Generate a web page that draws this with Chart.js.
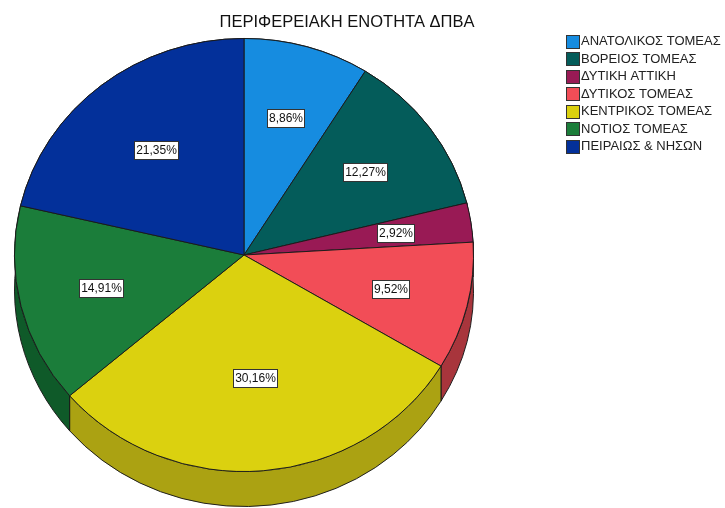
<!DOCTYPE html>
<html><head><meta charset="utf-8">
<script src="https://cdn.jsdelivr.net/npm/chart.js@4"></script>
<style>html,body{margin:0;padding:0;background:#fff}canvas{display:block}</style>
</head><body>
<canvas id="c" width="725" height="508"></canvas>
<script>
const chartTitle = 'ΠΕΡΙΦΕΡΕΙΑΚΗ ΕΝΟΤΗΤΑ ΔΠΒΑ';
const categories = ['ΑΝΑΤΟΛΙΚΟΣ ΤΟΜΕΑΣ','ΒΟΡΕΙΟΣ ΤΟΜΕΑΣ','ΔΥΤΙΚΗ ΑΤΤΙΚΗ','ΔΥΤΙΚΟΣ ΤΟΜΕΑΣ','ΚΕΝΤΡΙΚΟΣ ΤΟΜΕΑΣ','ΝΟΤΙΟΣ ΤΟΜΕΑΣ','ΠΕΙΡΑΙΩΣ & ΝΗΣΩΝ'];
const values = [8.86, 12.27, 2.92, 9.52, 30.16, 14.91, 21.35];
const valueLabels = ['8,86%','12,27%','2,92%','9,52%','30,16%','14,91%','21,35%'];
const topColors = ['#168ce0','#045c5a','#991a55','#f24d57','#dbd10f','#1b7d3a','#03309a'];
const sideColors = ['#0f63a0','#033f3e','#6b123b','#a8353c','#aba212','#0f5a29','#02226c'];

const SQUASH = 217/230;
const DEPTH = 35;
const FONT = '"Liberation Sans", Arial, sans-serif';

const pie3d = {
  id: 'pie3d',
  beforeDatasetsDraw(chart) {
    const ctx = chart.ctx;
    const arcs = chart.getDatasetMeta(0).data;
    const cy = arcs[0].y;
    ctx.save();
    ctx.translate(0, cy); ctx.scale(1, SQUASH); ctx.translate(0, -cy);
    const D = DEPTH / SQUASH;
    arcs.forEach((a, i) => {
      const p = a.getProps(['x','y','startAngle','endAngle','outerRadius'], true);
      const r = p.outerRadius;
      ctx.beginPath();
      ctx.arc(p.x, p.y, r, p.startAngle, p.endAngle);
      ctx.lineTo(p.x + r*Math.cos(p.endAngle), p.y + D + r*Math.sin(p.endAngle));
      ctx.arc(p.x, p.y + D, r, p.endAngle, p.startAngle, true);
      ctx.closePath();
      ctx.fillStyle = sideColors[i];
      ctx.fill();
      ctx.lineWidth = 1;
      ctx.strokeStyle = '#1a1a1a';
      ctx.stroke();
    });
  },
  afterDatasetsDraw(chart) {
    const ctx = chart.ctx;
    ctx.restore();
    const arcs = chart.getDatasetMeta(0).data;
    ctx.save();
    ctx.font = '12px ' + FONT;
    ctx.textAlign = 'center';
    ctx.textBaseline = 'middle';
    arcs.forEach((a, i) => {
      const p = a.getProps(['x','y','startAngle','endAngle','outerRadius'], true);
      const alpha = p.endAngle - p.startAngle;
      const mid = (p.startAngle + p.endAngle) / 2;
      const k = 4 * Math.sin(alpha/2) / (3 * alpha);
      const lx = p.x + k * p.outerRadius * Math.cos(mid);
      const ly = p.y + SQUASH * k * p.outerRadius * Math.sin(mid);
      const t = valueLabels[i];
      const w = Math.round(ctx.measureText(t).width + 3);
      const h = 18;
      const bx = Math.round(lx - w/2) + 0.5, by = Math.round(ly - h/2) + 0.5;
      ctx.fillStyle = '#fff';
      ctx.fillRect(bx, by, w, h);
      ctx.strokeStyle = '#333';
      ctx.lineWidth = 1;
      ctx.strokeRect(bx, by, w, h);
      ctx.fillStyle = '#111';
      ctx.fillText(t, bx + w/2, by + h/2 + 0.5);
    });
    ctx.restore();
  },
  afterDraw(chart) {
    const ctx = chart.ctx;
    ctx.save();
    ctx.fillStyle = '#111';
    ctx.font = '16.5px ' + FONT;
    ctx.textAlign = 'center';
    ctx.textBaseline = 'middle';
    ctx.fillText(chartTitle, 347, 22);
    ctx.font = '13px ' + FONT;
    ctx.textAlign = 'left';
    categories.forEach((c, i) => {
      const yc = 41 + i * 17.5;
      const by = Math.round(yc - 6.5) + 0.5;
      ctx.fillStyle = topColors[i];
      ctx.fillRect(566.5, by, 13, 13);
      ctx.strokeStyle = '#333';
      ctx.lineWidth = 1;
      ctx.strokeRect(566.5, by, 13, 13);
      ctx.fillStyle = '#222';
      ctx.fillText(c, 581, yc + 0.5);
    });
    ctx.restore();
  }
};

new Chart(document.getElementById('c'), {
  type: 'pie',
  data: {
    labels: categories,
    datasets: [{
      data: values,
      backgroundColor: topColors,
      borderColor: '#1a1a1a',
      borderWidth: 1
    }]
  },
  options: {
    responsive: false,
    animation: false,
    layout: { padding: { left: 14, right: 251, top: 25, bottom: 23 } },
    plugins: { legend: { display: false }, tooltip: { enabled: false }, title: { display: false } }
  },
  plugins: [pie3d]
});
</script>
</body></html>
